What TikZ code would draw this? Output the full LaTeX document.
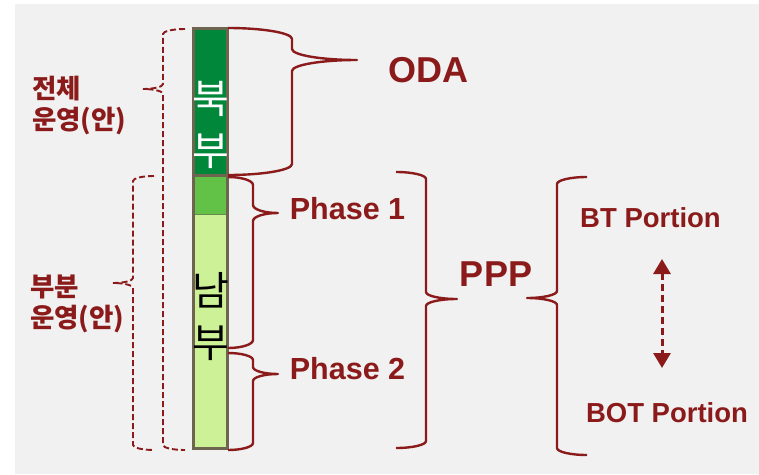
\documentclass[tikz,border=0pt]{standalone}
\usepackage{fontspec}
\setmainfont{Liberation Sans}
\newfontfamily\krfont{Noto Sans CJK KR}
\usetikzlibrary{arrows.meta}
\definecolor{dred}{RGB}{139,26,26}
\definecolor{bgc}{RGB}{241,241,241}
\definecolor{barline}{RGB}{110,100,80}
\definecolor{gdark}{RGB}{0,135,58}
\definecolor{gmid}{RGB}{98,194,72}
\definecolor{glight}{RGB}{204,241,150}
% #1 style, #2 x0, #3 xm, #4 x2, #5 top, #6 tip, #7 bottom, #8 ry
\newcommand\drawbrace[8]{%
  \draw[#1] (#2,#5) .. controls ({#2+0.55*(#3-#2)},#5) and (#3,{#5+0.45*#8}) .. (#3,{#5+#8})
    -- (#3,{#6-#8}) .. controls (#3,{#6-0.45*#8}) and ({#4-0.55*(#4-#3)},#6) .. (#4,#6)
    .. controls ({#4-0.55*(#4-#3)},#6) and (#3,{#6+0.45*#8}) .. (#3,{#6+#8})
    -- (#3,{#7-#8}) .. controls (#3,{#7-0.45*#8}) and ({#2+0.55*(#3-#2)},#7) .. (#2,#7);}
\tikzset{
  solidbrace/.style={draw=dred, line width=2.4pt, line join=round},
  dashbrace/.style={draw=dred, line width=1.9pt, dash pattern=on 6pt off 3pt},
  lbl/.style={text=dred, font=\bfseries, inner sep=0pt},
  krlbl/.style={text=dred, font=\krfont\bfseries\fontsize{26.5}{31}\selectfont, align=left, inner sep=0pt},
  bartext/.style={font=\krfont\fontsize{40}{52}\selectfont, align=center, inner sep=0pt},
}
\begin{document}
\begin{tikzpicture}[x=1pt,y=-1pt]
\useasboundingbox (0,0) rectangle (759,474);
\fill[white] (0,0) rectangle (759,474);
\fill[bgc] (15,4) rectangle (759,474);

% bar
\fill[gdark] (193.5,28.5) rectangle (227.5,175.5);
\fill[gmid] (193.5,175.5) rectangle (227.5,214);
\fill[glight] (193.5,214) rectangle (227.5,448.5);
\draw[barline!60!gmid, line width=1pt] (193.5,214) -- (227.5,214);
\draw[barline, line width=3pt] (193.5,28.5) rectangle (227.5,175.5);
\draw[barline, line width=3pt] (193.5,175.5) rectangle (227.5,448.5);

\node[bartext, text=white] (north) at (211,125) {북\\부};
\node[bartext, text=black] (south) at (211,317) {남\\부};

% right braces
\drawbrace{solidbrace}{228}{292}{357}{28}{60}{175}{11}
\drawbrace{solidbrace}{228}{253}{278}{177}{213}{348}{8}
\drawbrace{solidbrace}{228}{253}{278}{353}{374}{450}{7}
\drawbrace{solidbrace}{396}{426}{457}{172}{299}{448}{7}
\drawbrace{solidbrace}{587}{557}{527}{177}{298}{455}{7}

% dashed left brackets
\drawbrace{dashbrace}{185}{163}{143}{29}{89}{450}{5}
\drawbrace{dashbrace}{154}{133}{113}{176}{283}{450}{5}

% labels
\node[krlbl, anchor=west] (full) at (32,106) {전체\\운영(안)};
\node[krlbl, anchor=west] (part) at (30,304) {부분\\운영(안)};

\node[lbl, font=\bfseries\fontsize{36}{40}\selectfont] (oda) at (428,70) {ODA};
\node[lbl, font=\bfseries\fontsize{30.5}{34}\selectfont] (ph1) at (347.5,209) {Phase 1};
\node[lbl, font=\bfseries\fontsize{30.5}{34}\selectfont] (ph2) at (347.5,369) {Phase 2};
\node[lbl, font=\bfseries\fontsize{36}{40}\selectfont] (ppp) at (496,274.5) {PPP};
\node[lbl, font=\bfseries\fontsize{27.5}{32}\selectfont] (bt) at (650.5,217.5) {BT Portion};
\node[lbl, font=\bfseries\fontsize{27.5}{32}\selectfont] (bot) at (667,413) {BOT Portion};

% dashed double arrow
\coordinate (at) at (662,259);
\coordinate (ab) at (662,368);
\draw[dred, line width=3pt, dash pattern=on 7pt off 4pt,
  {Triangle[width=17pt,length=15pt]}-{Triangle[width=17pt,length=15pt]}] (at) -- (ab);
\end{tikzpicture}
\end{document}
